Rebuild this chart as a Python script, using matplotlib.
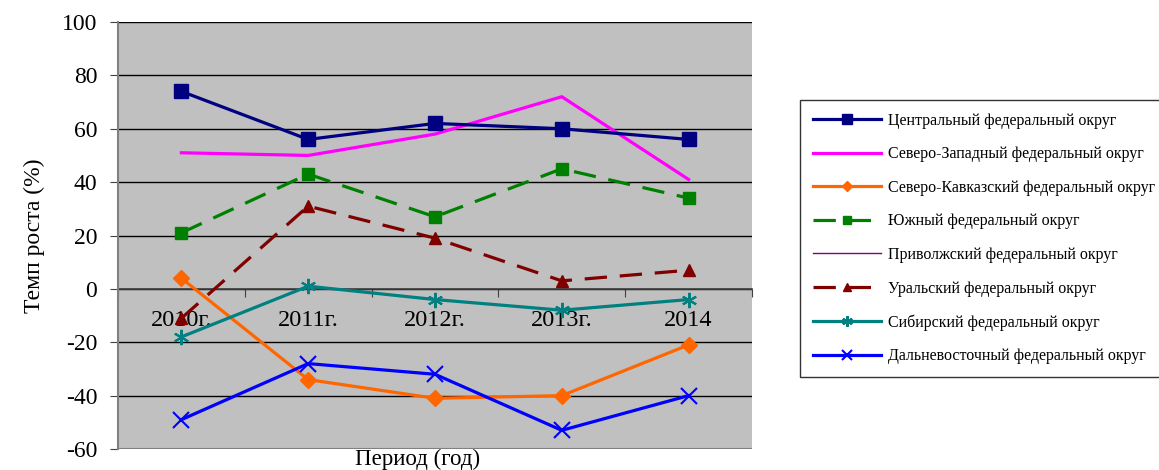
import matplotlib
matplotlib.use('Agg')
import matplotlib.pyplot as plt
import numpy as np

plt.rcParams['font.family'] = ['Liberation Serif', 'DejaVu Serif']
plt.rcParams['axes.unicode_minus'] = False

years = ['2010г.', '2011г.', '2012г.', '2013г.', '2014']

central = [74, 56, 62, 60, 56]
north_west = [51, 50, 58, 72, 41]
north_caucasus = [4, -34, -41, -40, -21]
south = [21, 43, 27, 45, 34]
volga = [np.nan] * 5  # only in legend
ural = [-11, 31, 19, 3, 7]
siberia = [-18, 1, -4, -8, -4]
far_east = [-49, -28, -32, -53, -40]

fig = plt.figure(figsize=(11.59, 4.70), dpi=100)
ax = fig.add_axes([118 / 1159, 1 - 449 / 470, 634 / 1159, 427 / 470])
ax.set_facecolor('#C0C0C0')

x = np.arange(len(years))
lw = 2.3
ax.plot(x, central, color='#000080', lw=lw, marker='s', ms=10,
        label='Центральный федеральный округ', zorder=5)
ax.plot(x, north_west, color='#FF00FF', lw=lw,
        label='Северо-Западный федеральный округ', zorder=4)
ax.plot(x, north_caucasus, color='#FF6600', lw=lw, marker='D', ms=8,
        label='Северо-Кавказский федеральный округ', zorder=4)
ax.plot(x, south, color='#008000', lw=lw, marker='s', ms=9, dashes=(7, 4),
        label='Южный федеральный округ', zorder=4)
ax.plot(x, volga, color='#800080', lw=1,
        label='Приволжский федеральный округ')
ax.plot(x, ural, color='#800000', lw=lw, marker='^', ms=9, dashes=(7, 4),
        label='Уральский федеральный округ', zorder=4)
ax.plot(x, siberia, color='#008080', lw=lw, marker=(6, 2, 0), ms=11, mew=1.5,
        label='Сибирский федеральный округ', zorder=4)
ax.plot(x, far_east, color='#0000FF', lw=lw, marker='x', ms=11, mew=1.5,
        label='Дальневосточный федеральный округ', zorder=4)

ax.set_xlim(-0.5, len(years) - 0.5)
ax.set_ylim(-60, 100)
ax.set_yticks(np.arange(-60, 101, 20))
ax.grid(axis='y', color='black', lw=1)
ax.set_axisbelow(True)

for s in ['top', 'right']:
    ax.spines[s].set_visible(False)
ax.spines['left'].set_color('#808080')
ax.spines['left'].set_linewidth(1.5)
ax.spines['bottom'].set_position(('data', 0))
ax.spines['bottom'].set_color('#404040')
ax.spines['bottom'].set_linewidth(1.2)
ax.spines['bottom'].set_zorder(2)
# нижняя граница области построения
ax.axhline(-60, color='#808080', lw=1.5, zorder=1)

ax.set_xticks(np.arange(len(years) + 1) - 0.5)
ax.set_xticklabels([])
ax.set_xticks(x, minor=True)
ax.set_xticklabels(years, minor=True, fontsize=17.5)
ax.tick_params(axis='x', which='major', length=6, direction='out', color='#404040')
ax.tick_params(axis='x', which='minor', length=0, pad=15)
ax.tick_params(axis='y', labelsize=17, length=6, pad=9, color='#404040')

ax.set_ylabel('Темп роста (%)', fontsize=17, labelpad=12)
fig.text(418 / 1159, 0.0, 'Период (год)', ha='center', va='bottom', fontsize=16.5)

leg = fig.legend(loc='upper left', bbox_to_anchor=(800 / 1159, 1 - 100 / 470),
                 fontsize=11.5, frameon=True, fancybox=False, edgecolor='black',
                 handlelength=4.3, labelspacing=1.1, borderpad=0.8,
                 handletextpad=0.4, borderaxespad=0, markerscale=0.7)
leg.get_frame().set_linewidth(1)

fig.savefig('out.png', dpi=100)
